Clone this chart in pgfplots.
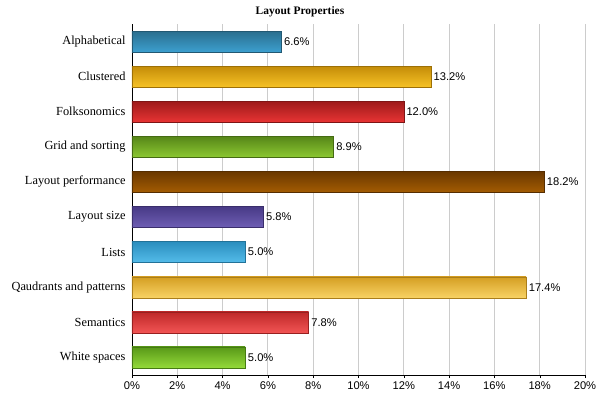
\documentclass[border=0pt]{standalone}
\usepackage{pgfplots}
\pgfplotsset{compat=1.18}
\usepackage{fontspec}
\setmainfont{Liberation Serif}
\newfontfamily\arial{Liberation Sans}
\definecolor{c1t}{HTML}{2A6E8E}\definecolor{c1b}{HTML}{3C9FCF}
\definecolor{c2t}{HTML}{C48C08}\definecolor{c2b}{HTML}{F6C226}
\definecolor{c3t}{HTML}{9E1A1A}\definecolor{c3b}{HTML}{E83434}
\definecolor{c4t}{HTML}{568618}\definecolor{c4b}{HTML}{8CC832}
\definecolor{c5t}{HTML}{6A3800}\definecolor{c5b}{HTML}{A45C02}
\definecolor{c6t}{HTML}{483A86}\definecolor{c6b}{HTML}{6E5EB4}
\definecolor{c7t}{HTML}{2A8EBE}\definecolor{c7b}{HTML}{54BCEA}
\definecolor{c8t}{HTML}{D49E22}\definecolor{c8b}{HTML}{F8D264}
\definecolor{c9t}{HTML}{BE2828}\definecolor{c9b}{HTML}{F25454}
\definecolor{c10t}{HTML}{589818}\definecolor{c10b}{HTML}{94DA3A}
\begin{document}
\begin{tikzpicture}
\begin{axis}[
  scale only axis,
  width=453bp, height=351bp,
  xmin=0, xmax=20,
  ymin=-0.5, ymax=9.5,
  y dir=reverse,
  xtick={0,2,...,20},
  xticklabel={\pgfmathprintnumber{\tick}\%},
  /pgf/number format/assume math mode=true,
  ytick={0,...,9},
  yticklabels={Alphabetical,Clustered,Folksonomics,Grid and sorting,Layout performance,Layout size,Lists,Qaudrants and patterns,Semantics,White spaces},
  y tick label style={font=\fontsize{12.4}{14}\selectfont},
  x tick label style={font=\arial\fontsize{11.2}{13}\selectfont},
  axis x line*=bottom,
  axis y line*=left,
  axis line style={black, thick, -},
  xmajorgrids,
  grid style={gray!40, line width=0.9pt},
  tick align=outside,
  major tick length=3bp,
  ytick style={draw=none},
  xtick style={black},
  xbar, bar width=21bp, bar shift=0pt,
  point meta=x,
  nodes near coords={\pgfmathprintnumber[fixed,fixed zerofill,precision=1]{\pgfplotspointmeta}\%},
  nodes near coords style={font=\arial\fontsize{11.2}{13}\selectfont, black, inner sep=2.5bp},
  clip=false,
]
\addplot[top color=c1t, bottom color=c1b, draw=c1t!80!black] coordinates {(6.6,0)};
\addplot[top color=c2t, bottom color=c2b, draw=c2t!80!black] coordinates {(13.2,1)};
\addplot[top color=c3t, bottom color=c3b, draw=c3t!80!black] coordinates {(12.0,2)};
\addplot[top color=c4t, bottom color=c4b, draw=c4t!80!black] coordinates {(8.9,3)};
\addplot[top color=c5t, bottom color=c5b, draw=c5t!80!black] coordinates {(18.2,4)};
\addplot[top color=c6t, bottom color=c6b, draw=c6t!80!black] coordinates {(5.8,5)};
\addplot[top color=c7t, bottom color=c7b, draw=c7t!80!black] coordinates {(5.0,6)};
\addplot[top color=c8t, bottom color=c8b, draw=c8t!80!black] coordinates {(17.4,7)};
\addplot[top color=c9t, bottom color=c9b, draw=c9t!80!black] coordinates {(7.8,8)};
\addplot[top color=c10t, bottom color=c10b, draw=c10t!80!black] coordinates {(5.0,9)};
\end{axis}
\node[font=\bfseries\fontsize{11.5}{13}\selectfont] at (168bp,363bp) {Layout Properties};
\pgfresetboundingbox
\path (-132bp,-22bp) rectangle (465bp,375bp);
\end{tikzpicture}
\end{document}
